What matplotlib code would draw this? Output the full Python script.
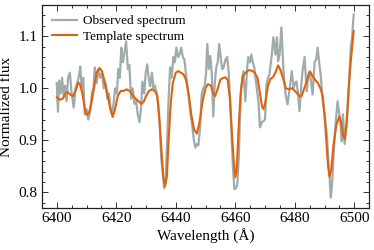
import matplotlib
matplotlib.use('Agg')
import matplotlib.pyplot as plt
from matplotlib.ticker import MultipleLocator

# Observed spectrum
obs_wave = [6400.0, 6400.4, 6400.8, 6401.3, 6401.8, 6402.3, 6402.8, 6403.3, 6403.8, 6404.4,
            6405.0, 6405.7, 6406.3, 6406.9, 6407.5, 6407.9, 6408.4, 6408.9, 6409.4, 6410.0,
            6410.6, 6411.2, 6411.8, 6412.3, 6412.8, 6413.4, 6414.0, 6414.6, 6415.2, 6415.8,
            6416.4, 6417.0, 6417.5, 6418.0, 6418.6, 6419.1, 6419.6, 6420.2, 6420.7, 6421.2,
            6421.7, 6422.2, 6422.8, 6423.3, 6423.9, 6424.4, 6425.0, 6425.5, 6426.1, 6426.7,
            6427.2, 6427.8, 6428.3, 6428.8, 6429.4, 6429.9, 6430.4, 6430.9, 6431.4, 6432.0,
            6432.5, 6433.0, 6433.6, 6434.1, 6434.6, 6435.1, 6435.6, 6436.1, 6436.6, 6437.1,
            6437.6, 6438.1, 6438.6, 6439.2, 6439.7, 6440.2, 6440.8, 6441.3, 6441.8, 6442.4,
            6442.9, 6443.4, 6444.0, 6444.5, 6445.0, 6445.5, 6446.1, 6446.6, 6447.1, 6447.6,
            6448.2, 6448.7, 6449.2, 6449.7, 6450.2, 6450.6, 6451.1, 6451.6, 6452.1, 6452.6,
            6453.1, 6453.6, 6454.1, 6454.6, 6455.1, 6455.6, 6456.1, 6456.7, 6457.3, 6457.8,
            6458.3, 6458.7, 6459.2, 6459.7, 6460.2, 6460.7, 6461.2, 6461.6, 6462.0, 6462.7,
            6463.4, 6464.0, 6464.4, 6465.0, 6465.4, 6465.9, 6466.4, 6467.0, 6467.8, 6468.3,
            6468.9, 6469.5, 6470.0, 6470.5, 6471.0, 6471.5, 6472.2, 6472.8, 6473.5, 6474.0,
            6474.4, 6474.9, 6475.5, 6476.2, 6476.9, 6477.6, 6478.3, 6479.0, 6479.6, 6480.1,
            6480.6, 6481.1, 6481.6, 6482.1, 6482.6, 6483.3, 6484.0, 6484.5, 6485.0, 6485.5,
            6486.0, 6486.7, 6487.2, 6487.7, 6488.2, 6488.7, 6489.4, 6490.0, 6490.7, 6491.2,
            6491.7, 6492.1, 6492.6, 6493.1, 6493.7, 6494.4, 6495.0, 6495.4, 6495.8, 6496.2,
            6496.8, 6497.4, 6497.9, 6498.4, 6498.8, 6499.3, 6499.8]
obs_flux = [1.010, 0.955, 1.015, 0.990, 1.020, 0.985, 1.005, 0.975, 1.020, 1.030,
            0.990, 0.963, 1.000, 1.010, 1.025, 1.042, 1.000, 1.020, 0.950, 0.960,
            0.940, 0.955, 0.990, 1.000, 1.040, 1.010, 1.035, 1.020, 1.030, 1.000,
            1.010, 0.980, 0.990, 0.965, 0.950, 0.970, 1.000, 0.990, 1.037, 1.020,
            1.078, 1.050, 1.070, 1.090, 1.037, 1.045, 0.980, 1.000, 0.970, 0.975,
            0.950, 0.935, 0.960, 1.013, 0.990, 1.030, 1.046, 1.020, 1.004, 1.030,
            1.000, 1.005, 0.990, 0.970, 0.930, 0.867, 0.840, 0.808, 0.820, 0.900,
            0.980, 1.040, 1.020, 1.060, 1.050, 1.078, 1.060, 1.065, 1.078, 1.060,
            1.055, 1.030, 1.000, 0.975, 0.950, 0.930, 0.900, 0.886, 0.893, 0.890,
            0.925, 0.988, 1.000, 1.004, 1.030, 1.085, 1.037, 1.062, 1.030, 0.946,
            1.008, 1.040, 1.050, 1.085, 1.060, 1.037, 1.040, 1.055, 1.060, 1.030,
            0.975, 0.920, 0.850, 0.806, 0.808, 0.815, 0.870, 0.950, 1.000, 1.033,
            0.975, 1.040, 1.060, 1.050, 1.065, 1.050, 1.040, 1.010, 0.975, 0.925,
            0.935, 0.937, 0.940, 1.008, 1.020, 1.027, 1.060, 1.098, 1.065, 1.098,
            1.052, 1.065, 1.117, 1.033, 0.988, 0.969, 1.000, 1.033, 1.000, 1.010,
            1.013, 0.990, 0.956, 1.000, 1.033, 1.060, 0.994, 1.020, 1.033, 1.010,
            0.988, 1.052, 1.055, 1.078, 1.050, 1.027, 0.975, 0.950, 0.917, 0.870,
            0.830, 0.790, 0.820, 0.879, 0.930, 0.975, 0.950, 0.930, 0.898, 0.950,
            0.893, 0.930, 0.969, 1.030, 1.078, 1.100, 1.142]

# Template spectrum
tpl_wave = [6400.0, 6401.0, 6402.0, 6403.0, 6403.6, 6404.5, 6405.5, 6406.5, 6407.2, 6407.8,
            6408.6, 6409.3, 6410.0, 6410.8, 6411.6, 6412.5, 6413.4, 6414.3, 6415.2, 6416.0,
            6417.0, 6418.0, 6418.8, 6419.6, 6420.5, 6421.5, 6422.5, 6423.5, 6424.5, 6425.5,
            6426.5, 6427.5, 6428.5, 6429.3, 6430.0, 6431.0, 6432.0, 6433.0, 6433.8, 6434.5,
            6435.2, 6435.8, 6436.4, 6437.0, 6437.6, 6438.3, 6439.0, 6440.0, 6440.8, 6441.7,
            6442.6, 6443.5, 6444.3, 6445.2, 6446.2, 6447.1, 6448.0, 6449.0, 6450.0, 6450.8,
            6451.8, 6452.6, 6453.2, 6454.0, 6455.0, 6456.0, 6456.8, 6457.5, 6458.2, 6458.9,
            6459.5, 6460.0, 6460.5, 6461.1, 6461.8, 6462.5, 6463.5, 6464.5, 6465.5, 6466.5,
            6467.5, 6468.3, 6469.0, 6469.5, 6470.2, 6471.0, 6471.8, 6472.8, 6473.6, 6474.4,
            6475.2, 6476.0, 6477.0, 6478.0, 6479.0, 6480.0, 6480.8, 6481.5, 6482.3, 6483.2,
            6484.0, 6484.8, 6485.3, 6486.0, 6487.0, 6487.8, 6488.6, 6489.4, 6490.0, 6490.6,
            6491.2, 6491.7, 6492.3, 6493.0, 6494.0, 6495.0, 6495.6, 6496.2, 6496.8, 6497.4,
            6498.0, 6498.8, 6499.3, 6499.8]
tpl_flux = [0.983, 0.978, 0.980, 0.990, 0.993, 0.988, 0.985, 0.998, 1.011, 1.008,
            0.990, 0.965, 0.949, 0.952, 0.970, 1.000, 1.030, 1.039, 1.033, 1.015,
            0.990, 0.960, 0.945, 0.960, 0.985, 0.995, 0.995, 0.998, 0.995, 0.987,
            0.980, 0.975, 0.970, 0.975, 0.985, 0.995, 0.998, 0.995, 0.985, 0.940,
            0.880, 0.830, 0.812, 0.830, 0.900, 0.970, 1.010, 1.030, 1.033, 1.030,
            1.027, 1.015, 0.990, 0.950, 0.920, 0.913, 0.935, 0.975, 1.000, 1.008,
            1.005, 0.990, 0.985, 0.997, 1.017, 1.020, 1.021, 1.015, 0.980, 0.910,
            0.860, 0.829, 0.845, 0.920, 0.990, 1.023, 1.030, 1.035, 1.034, 1.030,
            1.020, 0.990, 0.965, 0.960, 0.975, 1.005, 1.018, 1.022, 1.032, 1.044,
            1.035, 1.020, 1.000, 0.998, 1.000, 0.995, 0.990, 0.985, 0.985, 1.000,
            1.013, 1.030, 1.031, 1.023, 1.015, 1.010, 1.000, 0.985, 0.950, 0.900,
            0.850, 0.830, 0.845, 0.890, 0.930, 0.946, 0.935, 0.910, 0.902, 0.930,
            0.990, 1.050, 1.080, 1.110]

plt.rcParams['font.family'] = ['Liberation Serif', 'DejaVu Serif']

fig = plt.figure(figsize=(3.74, 2.5), dpi=100)
ax = fig.add_axes([0.112, 0.168, 0.875, 0.812])

ax.plot(obs_wave, obs_flux, color='#9eacac', linewidth=1.6, label='Observed spectrum')
ax.plot(tpl_wave, tpl_flux, color='#e0620d', linewidth=1.5, label='Template spectrum')

ax.set_xlim(6395, 6505)
ax.set_ylim(0.77, 1.16)
ax.xaxis.set_major_locator(MultipleLocator(20))
ax.xaxis.set_minor_locator(MultipleLocator(5))
ax.yaxis.set_major_locator(MultipleLocator(0.1))
ax.yaxis.set_minor_locator(MultipleLocator(0.02))
ax.tick_params(which='both', direction='in', top=True, right=True,
               labelsize=11, color='#333333', width=0.7, pad=3)
ax.tick_params(which='major', length=4)
ax.tick_params(which='minor', length=2)
for sp in ax.spines.values():
    sp.set_linewidth(0.9)
    sp.set_color('#222222')

ax.set_xlabel('Wavelength (Å)', fontsize=11, labelpad=2)
ax.set_ylabel('Normalized flux', fontsize=11, labelpad=4)

ax.legend(loc='upper left', frameon=False, fontsize=9.5, handlelength=1.9,
          handletextpad=0.45, labelspacing=0.25, borderpad=0.35,
          borderaxespad=0.4)

plt.savefig('out.png', dpi=100)
